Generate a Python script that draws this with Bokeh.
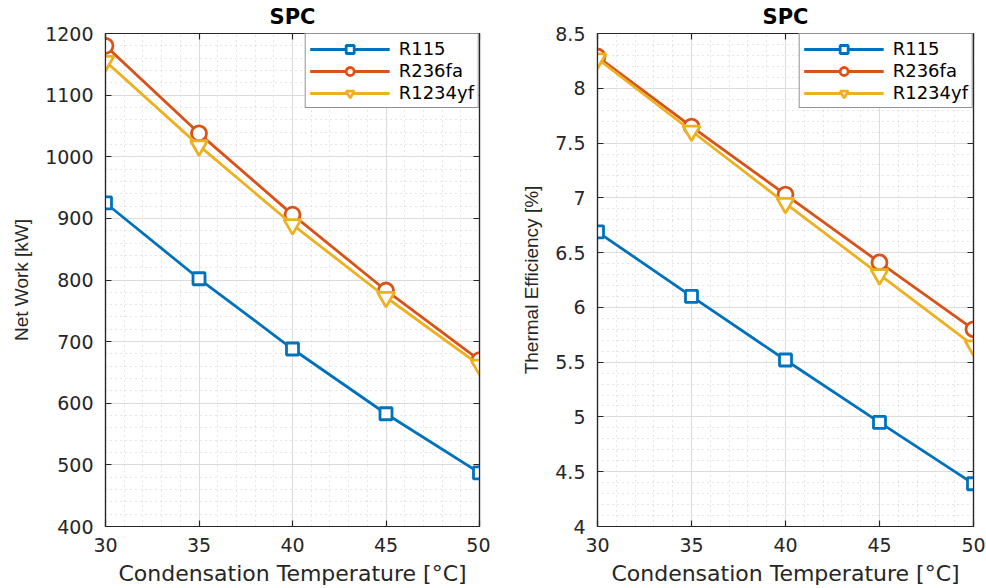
from bokeh.plotting import figure
from bokeh.layouts import row
from bokeh.models import SingleIntervalTicker, LinearAxis, Range1d, Legend, LegendItem, Title
from bokeh.embed import file_html
from bokeh.resources import INLINE

temps = [30, 35, 40, 45, 50]
fluids = ["R115", "R236fa", "R1234yf"]
net_r115 = [925, 802, 688, 583, 487]
net_r236fa = [1180, 1038, 906, 783, 670]
net_r1234yf = [1155, 1018, 890, 772, 662]
eff_r115 = [6.69, 6.10, 5.52, 4.95, 4.39]
eff_r236fa = [8.29, 7.65, 7.03, 6.41, 5.80]
eff_r1234yf = [8.27, 7.61, 6.95, 6.30, 5.65]

colors = ["#0072BD", "#D95319", "#EDB120"]
markers = ["square", "circle", "inverted_triangle"]
msizes = [12, 15, 17]

AX = "#262626"
HFONT = "DejaVu Sans"
VFONT = "Liberation Sans"


def make(series, ylo, yhi, yint, ylabel, width, bl, br):
    p = figure(width=width, height=588, x_range=Range1d(30, 50), y_range=Range1d(ylo, yhi),
               output_backend="svg", toolbar_location=None,
               min_border_left=bl, min_border_right=br, min_border_top=33, min_border_bottom=62)
    p.title = Title(text="SPC", align="center", text_font=HFONT, text_font_size="21px",
                    text_font_style="bold", text_color="#000000", offset=0, standoff=2)
    p.background_fill_color = "white"
    p.border_fill_color = "white"
    p.outline_line_color = AX
    p.outline_line_width = 1.2

    xt = SingleIntervalTicker(interval=5, num_minor_ticks=5)
    yt = SingleIntervalTicker(interval=yint, num_minor_ticks=5)
    p.xaxis.ticker = xt
    p.yaxis.ticker = yt
    p.xgrid.ticker = xt
    p.ygrid.ticker = yt

    for ax in (p.xaxis[0], p.yaxis[0]):
        ax.axis_line_color = AX
        ax.axis_line_width = 1.2
        ax.major_tick_in = 6
        ax.major_tick_out = 0
        ax.major_tick_line_color = AX
        ax.major_tick_line_width = 1.2
        ax.minor_tick_line_color = None
        ax.major_label_text_color = AX
        ax.major_label_text_font = HFONT
        ax.major_label_text_font_size = "19px"
        ax.axis_label_text_color = AX
        ax.axis_label_text_font_style = "normal"
    p.xaxis.major_label_standoff = 7
    p.yaxis.major_label_standoff = 8
    p.xaxis.axis_label = "Condensation Temperature [°C]"
    p.xaxis.axis_label_text_font = HFONT
    p.xaxis.axis_label_text_font_size = "22px"
    p.xaxis.axis_label_standoff = 6
    p.yaxis.axis_label = ylabel
    p.yaxis.axis_label_text_font = VFONT
    p.yaxis.axis_label_text_font_size = "19px"
    p.yaxis.axis_label_standoff = 10

    for loc, tk in (("right", yt), ("above", xt)):
        a = LinearAxis(ticker=tk)
        a.axis_line_color = AX
        a.axis_line_width = 1.2
        a.major_tick_in = 6
        a.major_tick_out = 0
        a.major_tick_line_color = AX
        a.major_tick_line_width = 1.2
        a.minor_tick_line_color = None
        a.major_label_text_font_size = "0px"
        a.major_label_standoff = 0
        a.major_label_text_color = None
        p.add_layout(a, loc)

    for g in (p.xgrid[0], p.ygrid[0]):
        g.grid_line_color = "#dcdcdc"
        g.grid_line_width = 1
        g.minor_grid_line_color = "#cccccc"
        g.minor_grid_line_dash = "1 4"
        g.minor_grid_line_width = 1

    items = []
    for name, vals, c, m, s in zip(fluids, series, colors, markers, msizes):
        l = p.line(temps, vals, line_color=c, line_width=2.8)
        sc = p.scatter(temps, vals, marker=m, size=s, line_color=c, line_width=2.8, fill_color="white")
        items.append(LegendItem(label=name, renderers=[l, sc]))
    leg = Legend(items=items, location="top_right")
    leg.margin = 0
    leg.padding = 4
    leg.spacing = 1
    leg.glyph_width = 80
    leg.glyph_height = 20
    leg.label_height = 20
    leg.label_standoff = 9
    leg.label_text_font = HFONT
    leg.label_text_font_size = "18px"
    leg.label_text_color = "#000000"
    leg.border_line_color = AX
    leg.border_line_width = 1.2
    leg.background_fill_color = "white"
    leg.background_fill_alpha = 1
    p.add_layout(leg, "center")
    return p


p1 = make([net_r115, net_r236fa, net_r1234yf], 400, 1200, 100, "Net Work [kW]", 490, 105, 11)
p2 = make([eff_r115, eff_r236fa, eff_r1234yf], 4, 8.5, 0.5, "Thermal Efficiency [%]", 496, 107, 13)

lay = row(p1, p2)
open("out.html", "w").write(file_html(lay, INLINE))
